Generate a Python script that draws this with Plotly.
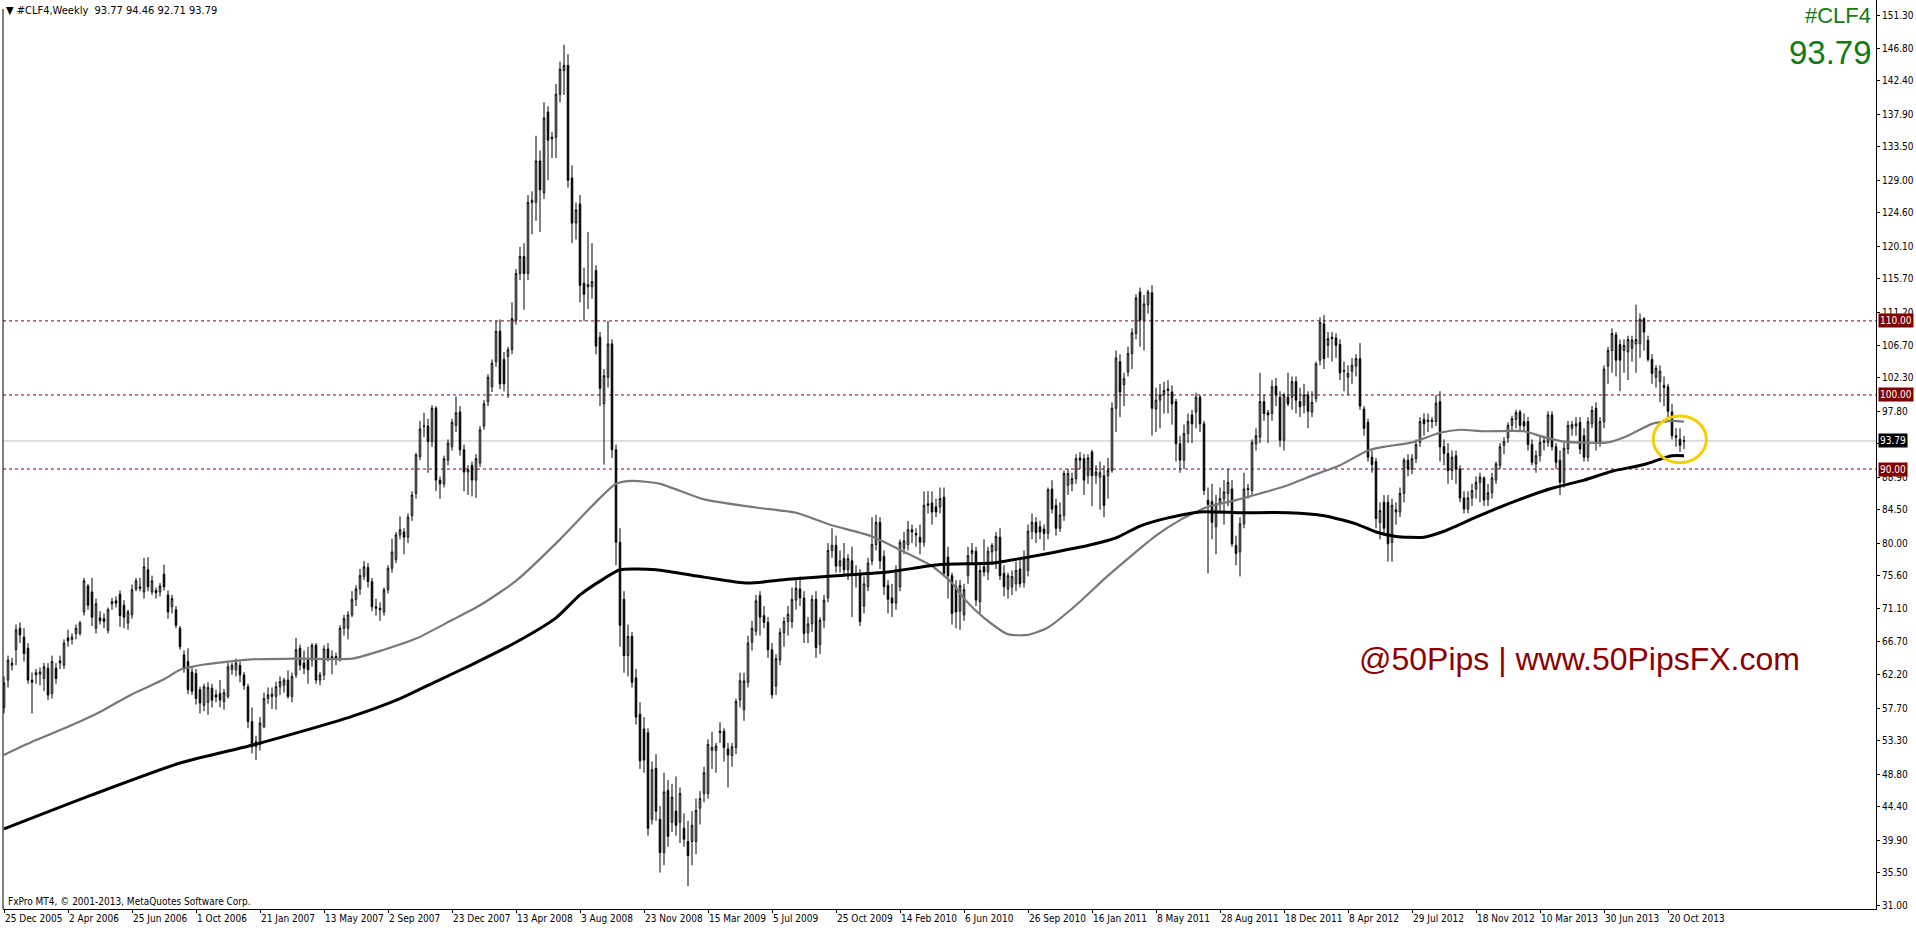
import plotly.graph_objects as go

# ---------------- data (weekly OHLC) ----------------
opens = [
 57.8, 61.5, 63.5, 65.6, 68.5, 67.3, 65.8, 61.5, 62.2, 62.3,
 61.7, 63.1, 59.7, 63.1, 63.8, 63.5, 67.2, 67.0, 67.8, 67.8,
 70.7, 74.2, 73.4, 68.5, 69.9, 69.8, 68.2, 71.8, 72.2, 73.1,
 71.6, 69.2, 70.3, 73.8, 74.1, 73.4, 76.4, 73.4, 73.6, 73.4,
 75.8, 73.0, 71.4, 71.0, 68.5, 64.9, 64.0, 62.6, 62.4, 60.2,
 58.1, 58.5, 60.4, 59.5, 59.7, 58.6, 59.3, 62.9, 62.9, 63.5,
 62.2, 60.6, 55.9, 52.5, 52.8, 55.2, 59.0, 59.3, 59.3, 60.6,
 60.8, 61.5, 59.3, 62.2, 65.8, 63.8, 64.4, 64.2, 66.2, 61.5,
 62.2, 65.7, 64.4, 64.7, 64.4, 68.5, 68.5, 70.3, 72.4, 73.8,
 75.5, 76.7, 74.8, 71.4, 71.2, 70.7, 73.7, 76.6, 77.8, 81.1,
 81.5, 80.8, 83.7, 86.7, 91.7, 95.8, 95.8, 93.7, 98.2, 88.5,
 88.0, 91.2, 93.0, 95.9, 97.7, 92.6, 89.6, 90.5, 88.5, 90.8,
 95.8, 99.1, 101.1, 104.5, 108.6, 104.8, 105.2, 106.1, 110.1, 116.4,
 118.7, 116.4, 126.0, 126.0, 131.6, 127.3, 138.2, 134.8, 134.8, 140.6,
 143.8, 144.5, 129.3, 123.2, 125.8, 115.1, 114.6, 114.6, 116.8, 107.8,
 98.8, 102.4, 106.9, 92.6, 80.1, 72.4, 64.8, 67.4, 61.8, 56.9,
 54.9, 54.4, 42.7, 49.6, 42.7, 38.2, 46.6, 42.3, 43.8, 42.3,
 41.5, 39.7, 39.7, 39.7, 44.2, 46.2, 46.2, 52.0, 52.0, 54.4,
 54.6, 52.2, 51.3, 52.4, 58.8, 57.5, 61.2, 66.6, 68.1, 72.9,
 70.2, 69.3, 65.6, 60.7, 64.2, 67.9, 69.4, 69.4, 72.3, 73.8,
 72.6, 67.9, 69.1, 72.4, 66.3, 69.6, 72.6, 79.0, 79.7, 76.9,
 77.9, 76.4, 77.6, 75.8, 75.8, 71.5, 74.1, 77.6, 79.8, 82.8,
 78.2, 74.3, 72.6, 71.9, 74.1, 79.3, 79.8, 81.8, 81.3, 80.8,
 80.1, 85.1, 85.4, 84.9, 84.9, 86.2, 78.1, 75.6, 74.1, 70.8,
 70.3, 75.6, 78.6, 78.9, 72.1, 76.8, 76.1, 78.8, 79.0, 80.8,
 75.9, 73.8, 74.1, 74.5, 76.5, 74.7, 76.3, 81.6, 82.8, 82.2,
 81.9, 81.3, 87.3, 85.1, 82.0, 83.7, 87.8, 88.0, 88.7, 91.5,
 91.4, 89.1, 92.3, 89.1, 88.9, 89.1, 89.1, 89.8, 98.2, 104.5,
 101.4, 103.1, 105.6, 108.3, 113.9, 110.1, 112.2, 113.8, 98.1, 99.3,
 100.0, 100.6, 100.4, 99.1, 93.4, 91.2, 94.8, 97.3, 97.7, 99.7,
 96.1, 85.8, 85.6, 82.2, 85.3, 86.0, 86.7, 87.3, 79.7, 78.8,
 82.6, 87.2, 87.1, 93.4, 94.3, 99.1, 97.6, 97.5, 101.2, 99.7,
 93.9, 99.7, 99.7, 101.8, 99.1, 98.6, 100.0, 97.7, 99.5, 104.7,
 109.6, 106.7, 107.8, 107.7, 106.8, 103.2, 102.4, 103.2, 103.9, 104.9,
 98.1, 96.3, 91.6, 91.0, 82.8, 85.5, 85.5, 80.1, 84.2, 84.2,
 86.7, 91.2, 90.0, 91.4, 93.6, 96.7, 96.4, 96.6, 96.4, 99.1,
 93.0, 92.1, 89.8, 91.8, 90.0, 86.1, 84.6, 86.1, 87.3, 88.2,
 88.8, 85.9, 86.8, 88.5, 90.5, 93.2, 94.2, 95.9, 96.7, 97.7,
 96.4, 96.4, 93.3, 90.7, 91.8, 93.6, 93.6, 97.3, 93.0, 91.2,
 88.2, 92.7, 95.5, 95.8, 96.3, 94.5, 91.6, 96.1, 98.2, 93.7,
 96.4, 103.9, 106.0, 108.1, 106.8, 106.0, 105.8, 106.3, 106.9, 106.9,
 110.3, 107.4, 104.8, 102.4, 101.8, 101.3, 101.1, 97.7, 94.5, 94.0, 93.77]

highs = [
 62.0, 64.8, 64.5, 69.0, 69.3, 68.5, 66.5, 62.5, 63.0, 63.2,
 63.8, 63.8, 64.8, 63.8, 64.8, 67.0, 68.3, 67.8, 69.0, 69.5,
 75.3, 74.5, 75.3, 72.5, 70.8, 70.5, 71.3, 72.6, 72.8, 73.6,
 72.3, 71.0, 74.4, 75.3, 75.3, 78.0, 78.1, 75.6, 74.0, 74.6,
 77.1, 73.6, 73.0, 71.5, 68.8, 65.5, 65.8, 63.3, 63.0, 60.6,
 61.0, 61.2, 61.0, 60.2, 61.5, 60.3, 63.8, 63.8, 64.4, 64.0,
 62.6, 61.0, 57.8, 54.0, 56.5, 59.8, 60.5, 60.5, 61.3, 62.0,
 61.8, 62.8, 62.5, 67.2, 66.3, 65.5, 66.0, 66.5, 66.5, 62.6,
 66.2, 66.5, 65.5, 65.2, 68.9, 70.3, 70.8, 73.5, 74.3, 76.5,
 77.6, 77.3, 75.3, 72.5, 72.0, 74.0, 77.0, 80.6, 81.5, 83.6,
 82.0, 84.0, 87.0, 92.2, 96.5, 97.6, 96.8, 98.6, 98.5, 89.0,
 91.8, 94.0, 96.8, 99.8, 98.5, 93.3, 90.5, 91.0, 92.0, 95.8,
 99.3, 102.8, 104.8, 110.0, 110.2, 105.8, 106.5, 112.5, 117.0, 120.0,
 120.5, 127.0, 127.5, 135.0, 133.0, 139.5, 139.0, 135.5, 142.0, 145.0,
 147.3, 146.0, 131.0, 126.0, 127.0, 117.2, 122.0, 120.5, 117.5, 108.5,
 103.5, 110.0, 107.5, 93.3, 82.0, 73.5, 69.0, 68.0, 63.0, 58.5,
 56.5, 55.0, 50.5, 51.5, 44.5, 49.0, 48.0, 47.5, 48.5, 47.0,
 43.5, 42.5, 43.8, 45.5, 46.5, 49.8, 53.5, 54.5, 53.0, 55.8,
 55.0, 53.0, 53.0, 59.0, 62.5, 62.5, 67.5, 69.5, 73.0, 73.5,
 71.5, 70.0, 66.5, 65.0, 68.5, 70.0, 71.5, 74.0, 75.0, 75.5,
 73.5, 70.0, 73.0, 73.5, 70.0, 73.0, 80.0, 82.0, 81.0, 79.0,
 80.0, 78.5, 79.5, 77.0, 76.5, 75.5, 78.0, 83.5, 83.8, 83.5,
 79.0, 75.0, 74.5, 77.0, 80.5, 81.5, 83.0, 82.5, 82.0, 82.5,
 87.0, 87.0, 87.0, 86.0, 87.5, 87.5, 79.5, 76.0, 75.0, 75.0,
 74.5, 79.5, 80.0, 79.5, 77.0, 80.5, 79.5, 80.0, 81.5, 82.0,
 77.0, 76.0, 76.3, 77.5, 78.0, 79.0, 82.5, 84.0, 83.5, 83.0,
 82.5, 87.5, 88.5, 86.0, 85.5, 89.8, 90.0, 89.5, 92.0, 92.3,
 92.0, 92.0, 92.6, 90.5, 91.0, 90.5, 91.5, 99.0, 106.0, 105.5,
 103.0, 106.5, 109.0, 113.6, 114.5, 113.5, 114.2, 114.8, 101.0, 101.5,
 101.8, 102.0, 101.3, 99.5, 94.5, 96.0, 97.5, 98.0, 100.3, 100.0,
 96.5, 87.5, 88.0, 86.5, 87.5, 88.5, 90.0, 88.5, 81.0, 83.5,
 89.5, 88.0, 94.0, 95.5, 103.0, 100.0, 98.0, 102.0, 102.3, 100.5,
 100.3, 103.0, 102.5, 102.5, 101.0, 101.5, 100.5, 100.5, 104.5, 110.5,
 110.8, 108.5, 108.5, 108.3, 107.5, 104.5, 104.0, 105.0, 105.5, 107.0,
 98.5, 96.8, 92.5, 91.5, 85.5, 86.5, 86.5, 86.0, 85.5, 87.5,
 91.5, 92.0, 92.0, 94.0, 97.0, 97.5, 97.5, 97.0, 100.0, 100.5,
 94.0, 93.5, 92.5, 92.5, 90.5, 87.0, 87.0, 88.0, 89.0, 89.5,
 89.0, 88.0, 89.5, 91.0, 93.5, 94.3, 96.3, 97.2, 98.0, 98.0,
 97.5, 97.0, 94.0, 92.5, 94.5, 94.5, 97.8, 97.8, 93.5, 92.5,
 93.5, 96.5, 96.5, 97.0, 97.0, 95.5, 97.0, 98.5, 99.0, 97.0,
 104.0, 106.5, 109.0, 108.5, 107.5, 107.5, 108.0, 108.0, 112.2, 111.0,
 110.5, 108.0, 105.5, 104.0, 104.0, 102.5, 101.5, 98.8, 95.5, 95.5, 94.46]

lows = [
 57.0, 60.5, 62.8, 63.5, 66.5, 64.0, 61.0, 57.0, 61.0, 60.8,
 60.0, 58.8, 59.0, 61.0, 63.0, 63.0, 66.0, 66.3, 67.0, 67.5,
 70.2, 71.0, 68.8, 67.8, 69.0, 68.5, 67.8, 71.0, 71.3, 68.7,
 68.5, 68.3, 69.8, 73.5, 73.5, 72.5, 73.5, 73.0, 72.5, 72.8,
 73.6, 69.8, 70.5, 68.5, 65.6, 62.5, 59.6, 59.5, 58.2, 57.0,
 57.3, 56.8, 57.8, 58.5, 57.8, 57.5, 59.0, 62.2, 62.0, 61.2,
 60.2, 55.0, 51.6, 50.7, 52.0, 55.0, 58.3, 57.6, 57.5, 59.5,
 59.8, 59.0, 58.5, 61.8, 62.8, 62.3, 61.0, 63.3, 61.0, 60.8,
 61.5, 64.0, 62.3, 63.5, 64.0, 67.5, 67.0, 70.0, 71.5, 73.0,
 75.0, 74.0, 70.8, 70.2, 69.5, 70.2, 73.2, 76.0, 77.3, 80.5,
 78.5, 80.0, 83.0, 86.0, 91.2, 94.3, 89.5, 93.0, 87.0, 86.0,
 87.5, 90.5, 92.5, 95.0, 91.8, 87.0, 86.5, 86.3, 86.1, 90.3,
 95.3, 98.5, 100.4, 103.8, 100.8, 100.5, 99.6, 105.5, 109.5, 115.5,
 111.5, 115.5, 121.7, 123.5, 122.0, 126.5, 129.0, 132.0, 132.0, 139.5,
 140.5, 128.0, 120.5, 121.0, 112.5, 110.0, 111.6, 113.0, 105.5, 98.5,
 90.6, 101.0, 91.5, 77.0, 66.0, 62.5, 62.0, 60.5, 55.5, 49.5,
 49.0, 40.5, 42.0, 42.5, 35.5, 36.5, 39.0, 41.0, 40.5, 39.5,
 39.0, 33.7, 36.5, 38.0, 42.0, 45.0, 45.5, 49.5, 49.0, 53.0,
 50.5, 47.0, 49.8, 51.5, 57.8, 56.0, 60.5, 65.5, 67.5, 67.5,
 68.5, 64.5, 59.0, 59.5, 63.5, 66.0, 67.5, 68.5, 71.0, 71.5,
 66.5, 66.5, 68.0, 64.5, 65.0, 68.5, 72.0, 78.0, 76.0, 76.0,
 75.5, 75.0, 70.0, 74.0, 68.8, 70.5, 73.5, 77.0, 79.0, 76.5,
 73.0, 70.5, 70.0, 71.0, 73.5, 78.5, 79.0, 80.0, 79.5, 78.5,
 79.5, 84.0, 82.5, 83.5, 84.0, 75.5, 72.5, 69.0, 68.5, 68.3,
 69.5, 74.5, 77.0, 71.5, 70.5, 75.5, 75.0, 77.0, 76.5, 75.0,
 72.8, 72.5, 73.0, 73.5, 74.0, 74.0, 75.5, 80.5, 80.0, 80.5,
 79.0, 80.5, 84.0, 81.0, 81.5, 83.0, 86.5, 87.0, 88.0, 90.0,
 86.5, 88.0, 85.0, 88.0, 84.5, 83.5, 86.0, 89.5, 95.0, 97.0,
 98.5, 102.5, 103.5, 107.5, 106.5, 106.0, 111.0, 94.5, 95.0, 95.5,
 97.5, 97.5, 96.0, 91.0, 89.5, 90.0, 93.5, 93.5, 95.5, 95.0,
 86.5, 75.9, 80.5, 78.5, 84.0, 82.5, 85.0, 79.5, 77.0, 75.5,
 82.0, 86.0, 86.5, 92.5, 93.5, 96.5, 93.5, 96.5, 98.5, 93.0,
 92.5, 98.5, 98.0, 97.5, 97.0, 97.5, 95.5, 97.0, 99.0, 104.0,
 103.5, 105.0, 104.5, 105.0, 102.0, 100.5, 100.0, 101.5, 102.5, 98.0,
 94.5, 91.0, 89.5, 82.0, 80.5, 81.0, 77.5, 77.5, 82.5, 83.5,
 85.5, 89.0, 89.3, 90.8, 93.0, 94.5, 95.0, 95.5, 95.8, 91.0,
 90.5, 88.0, 88.5, 88.0, 85.5, 84.0, 84.0, 85.0, 86.0, 85.5,
 85.0, 85.0, 86.0, 88.0, 90.0, 92.0, 93.5, 95.0, 95.5, 95.0,
 95.0, 92.5, 90.5, 89.5, 91.0, 92.5, 93.0, 92.5, 90.0, 86.5,
 87.5, 92.0, 94.5, 94.5, 92.0, 91.0, 91.0, 95.5, 92.5, 93.0,
 95.5, 101.5, 103.0, 102.5, 100.5, 103.0, 102.0, 104.5, 103.0, 105.0,
 106.0, 104.5, 101.5, 101.0, 99.0, 98.5, 97.0, 94.0, 93.0, 92.3, 92.71]

closes = [
 61.1, 64.2, 63.8, 68.3, 67.6, 65.1, 61.5, 61.2, 62.5, 62.6,
 63.3, 59.5, 64.0, 61.7, 64.1, 66.5, 66.8, 67.3, 68.5, 69.2,
 74.9, 71.6, 70.0, 71.8, 69.5, 69.4, 71.0, 72.1, 71.9, 70.2,
 70.0, 70.7, 73.7, 74.9, 73.9, 76.8, 74.1, 74.9, 73.3, 74.2,
 74.1, 70.7, 72.5, 68.9, 66.0, 63.1, 60.2, 60.0, 59.0, 58.4,
 60.6, 60.5, 58.8, 59.2, 58.8, 59.8, 63.3, 63.5, 63.8, 62.2,
 60.8, 55.9, 52.5, 53.2, 55.7, 59.0, 59.5, 59.6, 60.6, 61.3,
 61.5, 59.3, 62.0, 65.6, 63.5, 63.1, 62.9, 66.2, 61.5, 62.2,
 65.7, 64.4, 64.7, 64.4, 68.5, 69.8, 70.3, 72.4, 73.8, 75.6,
 76.8, 74.8, 71.4, 71.2, 71.0, 73.7, 76.6, 78.8, 81.1, 81.8,
 80.8, 83.5, 86.5, 91.9, 95.4, 95.8, 93.7, 98.2, 88.5, 88.0,
 91.4, 93.5, 96.3, 97.6, 92.6, 89.6, 89.9, 88.5, 91.4, 95.3,
 98.8, 102.4, 104.3, 108.6, 101.5, 101.5, 106.1, 110.3, 116.4, 118.7,
 116.4, 126.0, 126.3, 131.6, 127.7, 137.4, 134.4, 134.6, 140.6, 144.0,
 144.5, 129.0, 123.2, 125.0, 114.8, 113.6, 114.9, 115.3, 106.6, 100.9,
 102.6, 106.9, 92.6, 80.1, 68.9, 64.8, 67.4, 61.2, 56.5, 50.6,
 50.7, 41.5, 49.4, 43.8, 38.2, 46.4, 40.4, 45.7, 41.9, 46.2,
 40.0, 37.8, 41.9, 43.9, 45.5, 49.0, 52.8, 52.4, 52.6, 54.6,
 52.4, 51.4, 52.5, 58.6, 61.4, 61.4, 66.5, 68.5, 72.2, 70.0,
 69.3, 65.6, 59.5, 64.4, 67.9, 69.4, 70.4, 72.4, 73.9, 72.6,
 67.8, 69.1, 72.4, 65.9, 69.6, 72.3, 79.0, 79.7, 76.9, 77.6,
 76.4, 77.9, 75.8, 75.9, 69.4, 74.5, 77.3, 79.8, 82.8, 77.6,
 74.1, 72.4, 71.9, 76.4, 80.1, 80.3, 81.8, 81.5, 81.1, 80.1,
 85.1, 85.3, 84.2, 84.2, 86.0, 75.9, 75.6, 70.5, 70.7, 74.3,
 73.7, 78.3, 79.0, 72.3, 76.3, 76.1, 78.9, 79.7, 80.9, 75.6,
 74.1, 75.6, 75.5, 76.3, 74.5, 78.0, 81.6, 82.8, 81.4, 81.5,
 81.3, 87.2, 84.6, 82.0, 83.8, 89.4, 89.4, 88.7, 91.4, 91.2,
 88.5, 91.5, 89.1, 89.6, 89.5, 85.1, 89.8, 98.2, 105.0, 100.4,
 102.2, 105.6, 108.4, 113.1, 110.1, 112.3, 113.9, 98.2, 99.3, 100.0,
 100.6, 100.8, 98.8, 93.4, 91.2, 94.8, 96.4, 96.1, 99.7, 96.1,
 87.1, 85.2, 82.8, 85.3, 86.0, 86.9, 88.2, 79.9, 78.6, 82.6,
 87.3, 87.4, 93.6, 94.5, 99.1, 97.5, 97.3, 101.1, 100.0, 93.9,
 100.0, 98.8, 101.8, 99.3, 98.4, 100.0, 97.8, 99.0, 104.2, 109.8,
 104.9, 107.6, 107.6, 106.7, 103.0, 103.3, 102.9, 104.0, 104.9, 98.5,
 95.5, 91.6, 90.6, 83.3, 84.4, 82.0, 79.9, 85.1, 84.5, 86.7,
 91.2, 90.0, 91.4, 93.3, 96.4, 96.1, 96.6, 96.4, 98.9, 93.0,
 92.1, 89.8, 91.6, 90.0, 86.1, 84.6, 86.1, 87.1, 88.2, 88.9,
 85.8, 86.8, 88.8, 90.7, 93.0, 93.7, 95.9, 96.8, 97.6, 95.9,
 95.8, 93.3, 90.9, 91.8, 93.6, 93.8, 97.3, 93.0, 90.9, 88.2,
 92.8, 95.9, 96.0, 96.1, 92.7, 91.6, 96.4, 97.9, 93.6, 96.4,
 103.5, 106.0, 108.3, 104.7, 104.7, 106.7, 107.5, 107.4, 107.5, 110.2,
 108.5, 104.8, 102.9, 103.6, 103.2, 101.0, 97.8, 94.5, 94.3, 93.2, 93.79]

# moving averages (grey = faster, black = slower), read at sample bars
ma_fast_bar = [0, 8, 16, 24, 32, 40, 44, 50, 56, 62, 74, 87, 95, 103, 112, 119, 128, 139,
               147, 153, 157, 164, 175, 188, 198, 207, 217, 224, 232, 237, 240, 245, 251,
               256, 261, 268, 276, 288, 294, 301, 308, 314, 321, 326, 334, 341, 345, 352,
               359, 364, 370, 380, 385, 390, 401, 406, 412, 417, 420]
ma_fast_val = [51.4, 53.4, 55.2, 57.2, 59.6, 61.6, 62.9, 63.6, 64.0, 64.3, 64.4, 64.4, 65.6,
               67.1, 69.6, 71.6, 74.9, 80.5, 85.0, 88.0, 88.4, 88.0, 85.9, 84.8, 84.1, 82.4,
               80.9, 79.1, 76.9, 74.6, 72.5, 69.9, 67.7, 67.6, 68.6, 71.6, 75.6, 81.0, 83.1,
               84.9, 85.8, 86.7, 87.8, 88.9, 90.5, 92.5, 93.0, 93.6, 94.9, 95.3, 95.1, 95.1,
               94.3, 93.7, 93.6, 94.5, 96.1, 96.5, 96.4]
ma_slow_bar = [0, 22, 44, 62, 74, 87, 99, 108, 117, 128, 138, 144, 150, 154, 163, 175, 186,
               196, 208, 221, 234, 247, 255, 263, 272, 278, 284, 291, 299, 309, 321, 330,
               338, 343, 348, 355, 360, 368, 377, 387, 395, 402, 410, 415, 417, 420]
ma_slow_val = [41.4, 46.0, 50.3, 52.7, 54.5, 56.6, 59.0, 61.3, 63.6, 66.6, 69.9, 73.0, 75.2,
               76.4, 76.4, 75.4, 74.6, 75.1, 75.6, 76.1, 77.1, 77.3, 78.0, 78.8, 79.8, 80.7,
               82.3, 83.4, 84.2, 84.1, 84.1, 83.7, 82.6, 81.5, 80.9, 80.8, 81.6, 83.5, 85.5,
               87.4, 88.5, 89.7, 90.6, 91.5, 91.8, 91.8]

level_prices = [110.00, 100.00, 90.00]
last_price = 93.79
header_values = [93.77, 94.46, 92.71, 93.79]

date_labels = ["25 Dec 2005", "2 Apr 2006", "25 Jun 2006", "1 Oct 2006", "21 Jan 2007",
               "13 May 2007", "2 Sep 2007", "23 Dec 2007", "13 Apr 2008", "3 Aug 2008",
               "23 Nov 2008", "15 Mar 2009", "5 Jul 2009", "25 Oct 2009", "14 Feb 2010",
               "6 Jun 2010", "26 Sep 2010", "16 Jan 2011", "8 May 2011", "28 Aug 2011",
               "18 Dec 2011", "8 Apr 2012", "29 Jul 2012", "18 Nov 2012", "10 Mar 2013",
               "30 Jun 2013", "20 Oct 2013"]
bars_per_label = 16
price_ticks = [151.30, 146.80, 142.40, 137.90, 133.50, 129.00, 124.60, 120.10, 115.70,
               111.20, 106.70, 102.30, 97.80, 93.40, 88.90, 84.50, 80.00, 75.60, 71.10,
               66.70, 62.20, 57.70, 53.30, 48.80, 44.40, 39.90, 35.50, 31.00]

# ---------------- figure ----------------
n = len(closes)
bars = list(range(n))
FONT = "DejaVu Sans Condensed, Liberation Sans, Arial, sans-serif"
DARKRED = "#800000"

fig = go.Figure()
fig.add_trace(go.Scatter(x=ma_fast_bar, y=ma_fast_val, mode="lines",
                         line=dict(color="#787878", width=2.2, shape="spline", smoothing=0.6),
                         hoverinfo="skip", showlegend=False))
fig.add_trace(go.Scatter(x=ma_slow_bar, y=ma_slow_val, mode="lines",
                         line=dict(color="#000000", width=3, shape="spline", smoothing=0.6),
                         hoverinfo="skip", showlegend=False))
fig.add_trace(go.Candlestick(
    x=bars, open=opens, high=highs, low=lows, close=closes,
    increasing=dict(line=dict(color="black", width=1), fillcolor="white"),
    decreasing=dict(line=dict(color="black", width=1), fillcolor="black"),
    whiskerwidth=0, showlegend=False))

shapes = []
for p in level_prices:
    shapes.append(dict(type="line", xref="paper", x0=0, x1=1, yref="y", y0=p, y1=p,
                       line=dict(color=DARKRED, width=1, dash="3px,3px"), layer="below"))
shapes.append(dict(type="line", xref="paper", x0=0, x1=1, yref="y", y0=last_price, y1=last_price,
                   line=dict(color="#c0c0c0", width=1), layer="below"))
shapes.append(dict(type="line", xref="paper", x0=0, x1=0, yref="paper", y0=0, y1=0.99,
                   line=dict(color="black", width=1)))
# yellow highlight ellipse
shapes.append(dict(type="circle", xref="x", yref="y", x0=412.3, x1=425.6, y0=90.85, y1=97.16,
                   line=dict(color="#f5d000", width=3)))

annotations = []
for p in level_prices:
    annotations.append(dict(xref="paper", x=1, xanchor="left", xshift=2, yref="y", y=p,
                            yanchor="middle", text=f"{p:.2f}", showarrow=False,
                            bgcolor=DARKRED, borderpad=1,
                            font=dict(family=FONT, size=10, color="white")))
annotations.append(dict(xref="paper", x=1, xanchor="left", xshift=2, yref="y", y=last_price,
                        yanchor="middle", text=f"{last_price:.2f}", showarrow=False,
                        bgcolor="black", borderpad=1,
                        font=dict(family=FONT, size=10, color="white")))
annotations.append(dict(xref="paper", x=1, xanchor="right", xshift=-3, yref="paper", y=1,
                        yshift=-15, yanchor="middle", text="#CLF4", showarrow=False,
                        font=dict(family="Liberation Sans, Arial", size=22, color="#147a14")))
annotations.append(dict(xref="paper", x=1, xanchor="right", xshift=-2, yref="paper", y=1,
                        yshift=-52, yanchor="middle", text=f"{last_price:.2f}", showarrow=False,
                        font=dict(family="Liberation Sans, Arial", size=33, color="#147a14")))
annotations.append(dict(xref="paper", x=0, xanchor="left", xshift=1, yref="paper", y=1,
                        yshift=-10, yanchor="middle",
                        text="▼ #CLF4,Weekly  " + " ".join(f"{v:.2f}" for v in header_values),
                        showarrow=False, font=dict(family=FONT, size=11, color="black")))
annotations.append(dict(xref="paper", x=0, xanchor="left", xshift=3, yref="paper", y=0,
                        yshift=8, yanchor="middle",
                        text="FxPro MT4, © 2001-2013, MetaQuotes Software Corp.",
                        showarrow=False, font=dict(family=FONT, size=10, color="black")))
annotations.append(dict(xref="x", x=393.9, xanchor="center", yref="y", y=64.4, yanchor="middle",
                        text="@50Pips | www.50PipsFX.com", showarrow=False,
                        font=dict(family="Liberation Sans, Arial", size=32, color="#8b0000")))

tickvals = [i * bars_per_label for i in range(len(date_labels))]

fig.update_layout(
    width=1916, height=928,
    margin=dict(l=3, r=40, t=0, b=19),
    paper_bgcolor="white", plot_bgcolor="white",
    boxgap=0.45,
    shapes=shapes, annotations=annotations,
    xaxis=dict(range=[-0.25, 468], showgrid=False, zeroline=False, rangeslider=dict(visible=False),
               showline=True, linecolor="black", linewidth=1,
               tickvals=tickvals, ticktext=date_labels, ticks="outside", ticklen=3,
               tickcolor="black", ticklabelposition="outside right", tickangle=0,
               tickfont=dict(family=FONT, size=10, color="black")),
    yaxis=dict(range=[30.59, 153.33], side="right", showgrid=False, zeroline=False,
               showline=True, linecolor="black", linewidth=1,
               tickvals=price_ticks, ticktext=[f"{v:.2f}" for v in price_ticks],
               ticks="outside", ticklen=3, tickcolor="black",
               tickfont=dict(family=FONT, size=10, color="black")),
    hovermode=False,
)

fig.write_html("out.html", config={"displayModeBar": False},
               post_script="document.body.style.margin='0';document.body.style.overflow='hidden';")
